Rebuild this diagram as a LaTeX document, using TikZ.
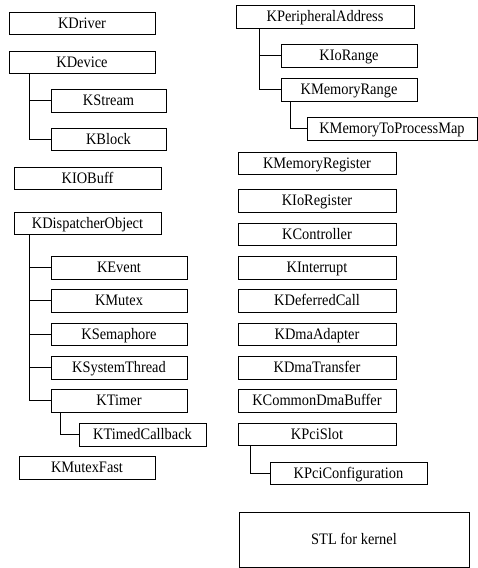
\documentclass[tikz,border=0pt]{standalone}
\usepackage{fontspec}
\setmainfont{Liberation Serif}[FakeStretch=0.9]
\begin{document}
\begin{tikzpicture}[x=1pt,y=-1pt,
  box/.style={draw,line width=1pt,inner sep=0pt,font=\fontsize{16}{18}\selectfont,text height=10.6pt,text depth=0pt},
  conn/.style={line width=1pt}]
\useasboundingbox (0,0) rectangle (478,568);
\newcommand{\bx}[6]{\node[box,minimum width={#4-#2},minimum height={#5-#3}] (#1) at ({(#2+#4)/2},{(#3+#5)/2}) {#6};}
% left column
\bx{drv}{9}{12}{155}{34}{KDriver}
\bx{dev}{9}{51}{155}{73}{KDevice}
\bx{str}{51}{89}{166}{112}{KStream}
\bx{blk}{51}{128}{166}{150}{KBlock}
\bx{iob}{14}{167}{161}{189}{KIOBuff}
\bx{dsp}{14}{212}{161}{234}{KDispatcherObject}
\bx{evt}{51}{256}{187}{279}{KEvent}
\bx{mtx}{51}{289}{187}{312}{KMutex}
\bx{sem}{51}{323}{187}{345}{KSemaphore}
\bx{sth}{51}{356}{187}{379}{KSystemThread}
\bx{tmr}{51}{389}{187}{412}{KTimer}
\bx{tcb}{79}{423}{206}{446}{KTimedCallback}
\bx{mfs}{19}{456}{155}{479}{KMutexFast}
% right column
\bx{pa}{236}{5}{414}{28}{KPeripheralAddress}
\bx{ior}{281}{44}{417}{67}{KIoRange}
\bx{mr}{281}{78}{417}{101}{KMemoryRange}
\bx{mpm}{307}{117}{477}{140}{KMemoryToProcessMap}
\bx{mreg}{238}{152}{396}{174}{KMemoryRegister}
\bx{ioreg}{238}{189}{396}{212}{KIoRegister}
\bx{ctl}{238}{223}{396}{245}{KController}
\bx{int}{238}{256}{396}{279}{KInterrupt}
\bx{dfc}{238}{289}{396}{312}{KDeferredCall}
\bx{dad}{238}{323}{396}{345}{KDmaAdapter}
\bx{dtr}{238}{356}{396}{379}{KDmaTransfer}
\bx{cdb}{238}{389}{396}{412}{KCommonDmaBuffer}
\bx{pci}{238}{423}{396}{445}{KPciSlot}
\bx{pcc}{270}{462}{427}{484}{KPciConfiguration}
\bx{stl}{239}{512}{469}{567}{STL for kernel}
% connectors
\draw[conn] ([xshift=21pt]dev.south west) |- (str.west);
\draw[conn] ([xshift=21pt]dev.south west) |- (blk.west);
\foreach \c in {evt,mtx,sem,sth,tmr}
  \draw[conn] ([xshift=16pt]dsp.south west) |- (\c.west);
\draw[conn] ([xshift=10pt]tmr.south west) |- (tcb.west);
\draw[conn] ([xshift=24pt]pa.south west) |- (ior.west);
\draw[conn] ([xshift=24pt]pa.south west) |- (mr.west);
\draw[conn] ([xshift=10pt]mr.south west) |- (mpm.west);
\draw[conn] ([xshift=13pt]pci.south west) |- (pcc.west);
\end{tikzpicture}
\end{document}
